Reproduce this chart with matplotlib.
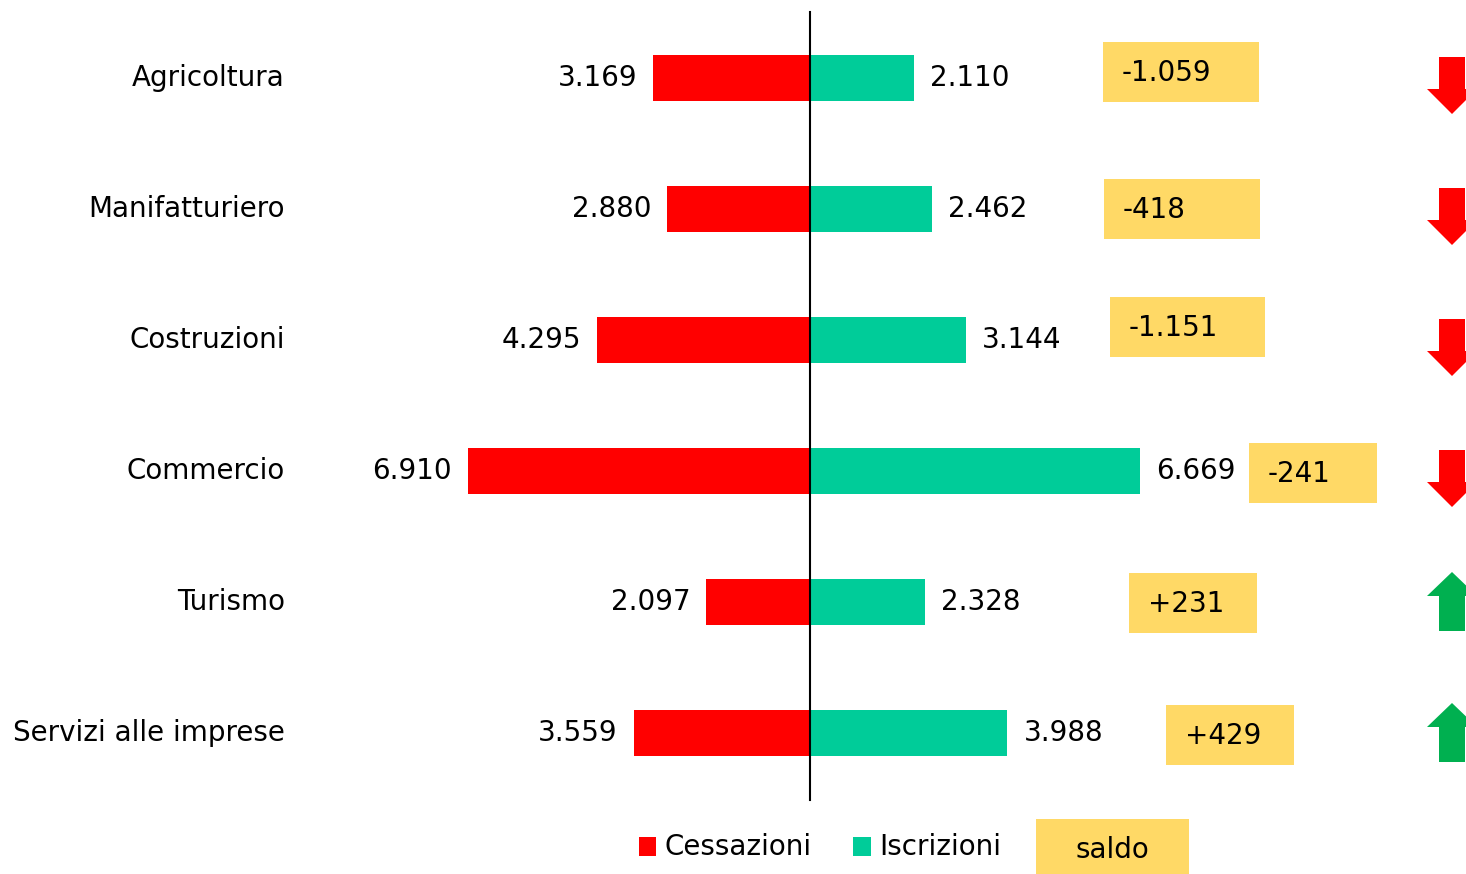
import matplotlib
matplotlib.use("Agg")
import matplotlib.pyplot as plt
from matplotlib.patches import Rectangle, Polygon

plt.rcParams['font.family'] = ['DejaVu Sans']

categories = ["Agricoltura", "Manifatturiero", "Costruzioni", "Commercio", "Turismo", "Servizi alle imprese"]
cessazioni = [3169, 2880, 4295, 6910, 2097, 3559]
iscrizioni = [2110, 2462, 3144, 6669, 2328, 3988]
saldo_labels = ["-1.059", "-418", "-1.151", "-241", "+231", "+429"]
cess_labels = ["3.169", "2.880", "4.295", "6.910", "2.097", "3.559"]
iscr_labels = ["2.110", "2.462", "3.144", "6.669", "2.328", "3.988"]
legend_labels = ["Cessazioni", "Iscrizioni", "saldo"]

# layout (pixel positions of saldo boxes: left, top)
box_pos = [(1103, 42, 156), (1104, 179, 156), (1110, 297, 155), (1249, 443, 128), (1129, 573, 128), (1166, 705, 128)]

RED = "#FF0000"
TEAL = "#00CC99"
GREEN = "#00B050"
YELLOW = "#FFD966"

W, H = 1466, 874
fig = plt.figure(figsize=(W / 100, H / 100), dpi=100)
ax = fig.add_axes([0, 0, 1, 1])
scale = 0.0495  # px per unit
ax.set_xlim(-810 / scale, (W - 810) / scale)
row0, step = 78, 131
ax.set_ylim((H - row0) / step, -row0 / step)
ax.axis("off")

ys = list(range(len(categories)))
ax.barh(ys, [-v for v in cessazioni], height=46 / step, color=RED, zorder=2)
ax.barh(ys, iscrizioni, height=46 / step, color=TEAL, zorder=2)
ax.plot([0, 0], [(12 - row0) / step, (800 - row0) / step], color="black", lw=1.5, zorder=3)

pad = 16 / scale
for i, y in enumerate(ys):
    ax.text(-cessazioni[i] - pad, y, cess_labels[i], ha="right", va="center", fontsize=20)
    ax.text(iscrizioni[i] + pad, y, iscr_labels[i], ha="left", va="center", fontsize=20)
    ax.text(-(810 - 285) / scale, y, categories[i], ha="right", va="center", fontsize=20)

# overlay in pixel coords
pax = fig.add_axes([0, 0, 1, 1], zorder=5)
pax.set_xlim(0, W)
pax.set_ylim(H, 0)
pax.axis("off")
pax.patch.set_alpha(0)

saldo_vals = [iscrizioni[i] - cessazioni[i] for i in range(len(categories))]
for i, (bx, by, bw) in enumerate(box_pos):
    pax.add_patch(Rectangle((bx, by), bw, 60, color=YELLOW, lw=0))
    pax.text(bx + 19, by + 31, saldo_labels[i], ha="left", va="center", fontsize=20)
    cy = row0 + i * step
    cx = 1452
    if saldo_vals[i] < 0:
        top, neck, tip = cy - 21, cy + 11, cy + 36
        pts = [(cx - 13, top), (cx + 13, top), (cx + 13, neck), (cx + 25, neck), (cx, tip),
               (cx - 25, neck), (cx - 13, neck)]
        col = RED
    else:
        tip, neck, bot = cy - 30, cy - 6, cy + 29
        pts = [(cx, tip), (cx + 25, neck), (cx + 13, neck), (cx + 13, bot), (cx - 13, bot),
               (cx - 13, neck), (cx - 25, neck)]
        col = GREEN
    pax.add_patch(Polygon(pts, closed=True, color=col, lw=0))

# legend
pax.add_patch(Rectangle((639, 837), 17, 19, color=RED, lw=0))
pax.text(664, 847, legend_labels[0], ha="left", va="center", fontsize=20)
pax.add_patch(Rectangle((853, 837), 18, 19, color=TEAL, lw=0))
pax.text(879, 847, legend_labels[1], ha="left", va="center", fontsize=20)
pax.add_patch(Rectangle((1036, 819), 153, 60, color=YELLOW, lw=0))
pax.text(1112, 850, legend_labels[2], ha="center", va="center", fontsize=20)

fig.savefig("out.png", dpi=100)
